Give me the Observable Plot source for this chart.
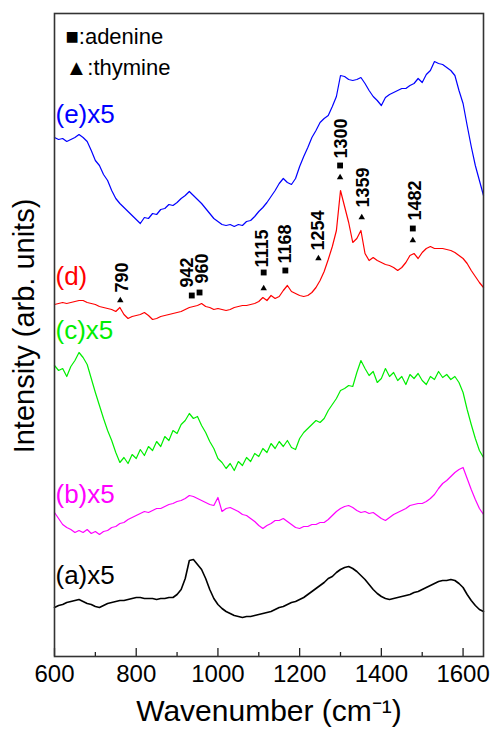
<!DOCTYPE html>
<html><head><meta charset="utf-8">
<script src="https://cdn.jsdelivr.net/npm/d3@7"></script>
<script src="https://cdn.jsdelivr.net/npm/@observablehq/plot@0.6"></script>
<style>
body{margin:0;background:#fff;}
#chart{width:493px;height:729px;}
</style>
</head><body><div id="chart"></div>
<script>
// Wavenumber grid (cm^-1)
const wavenumbers = [
 600,610,620,630,640,650,660,670,680,690,
 700,710,720,730,740,750,760,770,780,790,
 800,810,820,830,840,850,860,870,880,890,
 900,910,920,930,940,950,960,970,980,990,
 1000,1010,1020,1030,1040,1050,1060,1070,1080,1090,
 1100,1110,1120,1130,1140,1150,1160,1170,1180,1190,
 1200,1210,1220,1230,1240,1250,1260,1270,1280,1290,
 1300,1310,1320,1330,1340,1350,1360,1370,1380,1390,
 1400,1410,1420,1430,1440,1450,1460,1470,1480,1490,
 1500,1510,1520,1530,1540,1550,1560,1570,1580,1590,
 1600,1610,1620,1630,1640,1650];

// Intensities (arb. units, offset traces)
const seriesE = [
 519,517,518,515,517,519,522,519,515,506,
 496,491,482,476,466,458,453,449,445,441,
 437,433,439,438,443,442,447,448,452,451,
 454,458,461,465,461,457,453,448,443,438,
 435,432,431,432,430,432,431,435,436,440,
 445,449,454,460,466,473,478,474,472,478,
 490,500,509,519,526,534,538,541,550,560,
 581,580,577,576,577,579,573,566,560,556,
 551,559,562,564,566,568,568,571,573,578,
 574,582,586,595,593,592,589,586,581,566,
 553,531,510,491,476,461];
const seriesD = [
 352,353,354,353,354,355,356,356,354,353,
 352,350,349,348,347,345,349,342,338,340,
 341,342,344,341,337,338,340,341,342,343,
 344,345,347,349,350,351,353,350,349,347,
 348,347,346,347,349,350,351,351,352,353,
 355,359,356,361,358,360,366,371,365,363,
 361,360,361,364,369,376,385,397,410,426,
 466,450,434,414,418,426,403,396,399,396,
 394,392,391,389,386,389,394,401,403,398,
 404,408,410,408,408,408,407,406,404,401,
 398,393,386,380,374,369];
const seriesC = [
 291,286,288,280,290,296,304,299,292,278,
 264,251,238,226,216,204,194,199,193,202,
 198,207,201,210,206,215,210,220,216,226,
 223,232,236,243,238,240,231,224,215,208,
 198,194,188,193,186,195,191,199,195,203,
 200,208,204,213,208,215,210,216,209,207,
 218,224,228,232,236,234,238,246,252,258,
 266,268,271,270,284,296,288,281,285,274,
 278,288,280,284,276,280,272,282,278,283,
 276,272,280,277,285,279,282,277,280,274,
 264,247,232,218,206,199];
const seriesB = [
 144,138,132,129,127,124,126,124,127,123,
 125,122,125,126,129,130,133,134,137,139,
 141,143,145,144,146,148,148,150,152,153,
 155,156,158,161,160,158,156,154,152,151,
 159,145,148,149,147,145,142,141,138,135,
 131,128,131,133,136,136,138,135,132,129,
 128,130,130,132,132,134,134,137,141,145,
 148,150,151,149,146,144,145,143,144,141,
 138,136,139,142,144,146,148,151,152,153,
 153,155,158,162,168,173,176,180,184,187,
 189,178,167,157,148,142];
const seriesA = [
 49,51,52,54,55,56,57,55,53,52,
 50,49,51,53,54,55,56,56,57,58,
 59,59,58,58,58,57,58,58,59,59,
 62,67,78,96,97,92,87,78,67,58,
 52,48,45,43,41,40,39,40,40,41,
 42,43,44,45,47,49,50,52,54,55,
 57,59,62,65,68,71,74,78,80,84,
 87,89,90,88,85,81,77,72,67,63,
 60,58,57,58,59,60,61,62,64,65,
 67,69,71,73,75,76,76,77,76,73,
 69,62,56,51,47,45];

const seriesNames = ["(e)x5", "(d)", "(c)x5", "(b)x5", "(a)x5"];
const seriesColors = ["#0000ff", "#ff0000", "#00ee00", "#ff00ff", "#000000"];
const seriesValues = [seriesE, seriesD, seriesC, seriesB, seriesA];
const seriesLabelY = [534, 372, 318, 154, 73];

// Peak annotations
const annoLabels = ["790", "942", "960", "1115", "1168", "1254", "1300", "1359", "1482"];
const annoX = [765, 924, 961, 1108, 1165, 1246, 1301, 1356, 1483];
const annoY = [364, 369, 373, 389, 393, 406, 498, 449, 436];
const adenineX = [936, 955, 1112, 1165, 1299, 1477];
const adenineY = [361, 364, 384, 386, 491, 428];
const thymineX = [761, 1112, 1246, 1299, 1352, 1477];
const thymineY = [356, 368, 398, 479, 439, 416];

const legendSymbols = ["■", "▲"];
const legendNames = ["adenine", "thymine"];

const majorTicks = [600, 800, 1000, 1200, 1400, 1600];
const minorTicks = [700, 900, 1100, 1300, 1500];
const xTitle = "Wavenumber (cm⁻¹)";
const yTitle = "Intensity (arb. units)";

const rows = [];
seriesValues.forEach((vals, s) => {
  vals.forEach((v, i) => rows.push({series: seriesNames[s], x: wavenumbers[i], y: v}));
});
const labels = seriesNames.map((n, i) => ({name: n, y: seriesLabelY[i], color: seriesColors[i]}));
const annos = annoLabels.map((t, i) => ({t, x: annoX[i], y: annoY[i]}));
const aden = adenineX.map((x, i) => ({x, y: adenineY[i]}));
const thym = thymineX.map((x, i) => ({x, y: thymineY[i]}));
const legendText = legendSymbols.map((s, i) => s + ":" + legendNames[i]).join("\n");

const chart = Plot.plot({
  width: 493,
  height: 729,
  marginLeft: 54,
  marginRight: 10,
  marginTop: 13,
  marginBottom: 73,
  style: {fontFamily: "'Liberation Sans', Arial, sans-serif", background: "#fff", color: "#000"},
  x: {domain: [600, 1650], label: null},
  y: {domain: [0, 643], axis: null},
  color: {domain: seriesNames, range: seriesColors},
  marks: [
    Plot.line(rows, {x: "x", y: "y", z: "series", stroke: "series", strokeWidth: d => d.series === "(a)x5" ? 1.6 : 1.2}),
    Plot.ruleX(majorTicks, {x: d => d, y1: 0, y2: 8, stroke: "#222", strokeWidth: 1.3}),
    Plot.ruleX(minorTicks, {x: d => d, y1: 0, y2: 4, stroke: "#222", strokeWidth: 1.3}),
    Plot.axisX({ticks: majorTicks, tickSize: 0, tickPadding: 8, fontSize: 24, tickFormat: d => String(d), label: null}),
    Plot.text([xTitle], {text: d => d, frameAnchor: "bottom", dy: 64, lineAnchor: "bottom", fontSize: 30}),
    Plot.text([yTitle], {text: d => d, frameAnchor: "left", rotate: -90, dx: -30, dy: -9, textAnchor: "middle", lineAnchor: "middle", fontSize: 29}),
    Plot.text([legendText], {text: d => d, frameAnchor: "top-left", dx: 11, dy: 9, lineAnchor: "top", textAnchor: "start", lineHeight: 1.4, fontSize: 22}),
    Plot.text(labels, {x: 600, y: "y", text: "name", fill: "color", textAnchor: "start", lineAnchor: "bottom", dx: 1, fontSize: 26}),
    Plot.text(annos, {x: "x", y: "y", text: "t", rotate: -90, textAnchor: "start", lineAnchor: "middle", fontSize: 18, fontWeight: "bold"}),
    Plot.dot(aden, {x: "x", y: "y", symbol: "square", r: 3.3, fill: "#000", stroke: null}),
    Plot.dot(thym, {x: "x", y: "y", symbol: "triangle", r: 2.4, fill: "#000", stroke: null}),
    Plot.frame({stroke: "#333", strokeWidth: 1.6})
  ]
});
document.getElementById("chart").appendChild(chart);
</script>
</body></html>
